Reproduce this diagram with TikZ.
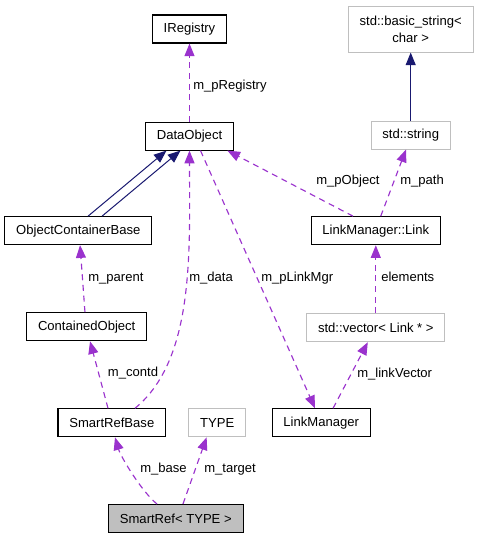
\documentclass[tikz,border=0pt]{standalone}
\usepackage{fontspec}
\setmainfont{Liberation Sans}
\usetikzlibrary{positioning}
\usetikzlibrary{arrows.meta}
\definecolor{refpurple}{HTML}{9A32CD}
\definecolor{inhnavy}{HTML}{191970}
\definecolor{undocgrey}{HTML}{BFBFBF}
\tikzset{%
	>={Triangle[width=7.5pt,length=9.5pt]},
	% Specifications for style of nodes:
	base/.style = {rectangle, draw=black, line width=0.8pt, minimum height=21pt, inner xsep=8.5pt, inner ysep=2pt, text centered, font=\fontsize{9.8}{12.5}\selectfont},
	cls/.style = {base},
	extcls/.style = {base, draw=undocgrey, line width=0.75pt},
	focus/.style = {base, fill=undocgrey},
	% Specifications for style of edges:
	member/.style = {draw=refpurple, line width=0.85pt, dash pattern=on 4.5pt off 3.5pt},
	inherit/.style = {draw=inhnavy, line width=0.75pt},
	lbl/.style = {anchor=west, inner sep=0pt, text height=7pt, text depth=2pt, font=\fontsize{9.8}{12}\selectfont},
}

\begin{document}
\begin{tikzpicture}[x=0.75pt,y=-0.75pt]
		\useasboundingbox (0,0) rectangle (479,539);

		\node (IReg) [cls] at (189.5,29) {IRegistry};
		\node (DataObj) [cls,below =58.5pt of IReg] {DataObject};
		\node (BasicStr) [extcls,align=center,minimum height=34.5pt] at (410.7,29) {std::basic\_string<\\char >};
		\node (StdStr) [extcls,below =51pt of BasicStr] {std::string};

		\node (OCB) [cls] at (78.3,230.7) {ObjectContainerBase};
		\node (Link) [cls] at (375.8,230.7) {LinkManager::Link};
		\node (ContObj) [cls] at (86.7,326.7) {ContainedObject};
		\node (Vec) [extcls,below =51pt of Link] {std::vector< Link * >};

		\node (SRBase) [cls] at (111.8,422.8) {SmartRefBase};
		\node (Type) [extcls] at (217.3,422.8) {TYPE};
		\node (LinkMgr) [cls] at (321.2,422.8) {LinkManager};
		\node (SmartRef) [focus] at (175.8,518.5) {SmartRef< TYPE >};

		\draw [member,->] (DataObj.north) -- (IReg.south);
		\draw [inherit,->] ([xshift=7.3pt]OCB.north) -- ([xshift=-17.25pt]DataObj.south);
		\draw [inherit,->] ([xshift=17.8pt]OCB.north) -- ([xshift=-6.75pt]DataObj.south);
		\draw [inherit,->] (StdStr) -- (BasicStr);

		\draw [member,->] ([xshift=-17.1pt]Link.north) -- ([xshift=-5pt]DataObj.south east);
		\draw [member,->] ([xshift=3.7pt]Link.north) -- ([xshift=-3.5pt]StdStr.south);
		\draw [member,->] (Vec) -- (Link);
		\draw [member,->] ([xshift=8.9pt]LinkMgr.north) -- ([xshift=-6pt]Vec.south);
		\draw [member,->] ([xshift=8.25pt]DataObj.south) -- ([xshift=-4.65pt]LinkMgr.north);
		\draw [member,->] ([xshift=17.4pt]SRBase.north) .. controls +(60,-49) and +(0,100) .. (DataObj.south);

		\draw [member,->] ([xshift=-1.3pt]ContObj.north) -- ([xshift=1.3pt]OCB.south);
		\draw [member,->] ([xshift=-2.85pt]SRBase.north) -- ([xshift=2.5pt]ContObj.south);
		\draw [member,->] ([xshift=-14.1pt]SmartRef.north) .. controls +(-15,-12) and +(6,20) .. ([xshift=2.4pt]SRBase.south);
		\draw [member,->] ([xshift=5.4pt]SmartRef.north) -- ([xshift=-8pt]Type.south);

		\node (LblReg) [lbl] at (193,86) {m\_pRegistry};
		\node (LblObj) [lbl] at (316,181) {m\_pObject};
		\node (LblPath) [lbl] at (400,181) {m\_path};
		\node (LblParent) [lbl] at (88,277.7) {m\_parent};
		\node (LblData) [lbl] at (189,277.7) {m\_data};
		\node (LblMgr) [lbl] at (261,277.7) {m\_pLinkMgr};
		\node (LblElem) [lbl] at (381,277.7) {elements};
		\node (LblContd) [lbl] at (107.7,373.3) {m\_contd};
		\node (LblVec) [lbl] at (357,374) {m\_linkVector};
		\node (LblBase) [lbl] at (140,469.3) {m\_base};
		\node (LblTarget) [lbl] at (204,469.3) {m\_target};

     \end{tikzpicture}
\end{document}
